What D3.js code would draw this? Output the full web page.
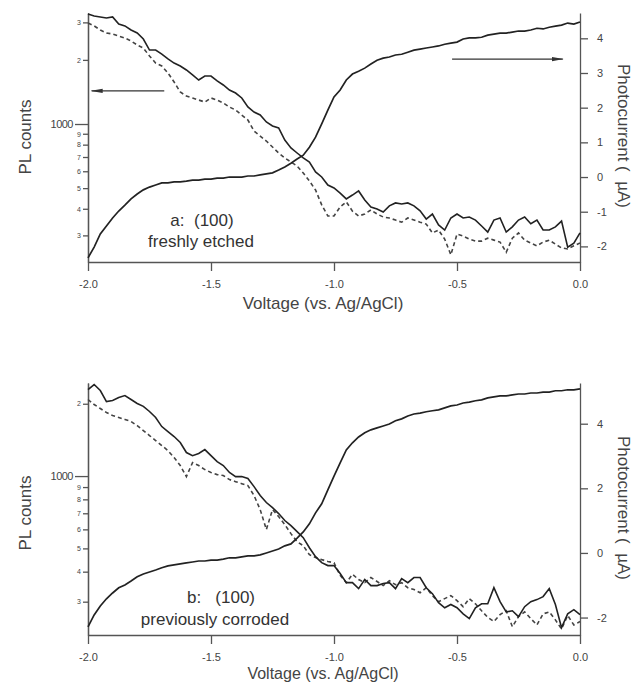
<!DOCTYPE html>
<html>
<head>
<meta charset="utf-8">
<script src="https://cdn.jsdelivr.net/npm/d3@7"></script>
<style>
  body { margin: 0; background: #fff; }
  svg { display: block; font-family: "Liberation Sans", Arial, Helvetica, sans-serif; }
  .axis path, .axis line { stroke: #555; stroke-width: 1.3; }
  .axis text { fill: #444; }
</style>
</head>
<body>
<svg id="chart" width="635" height="684"></svg>
<script>
// voltage grid (V vs. Ag/AgCl), shared by every curve
const voltage = [-2.000,-1.975,-1.950,-1.925,-1.900,-1.875,-1.850,-1.825,-1.800,-1.775,
  -1.750,-1.725,-1.700,-1.675,-1.650,-1.625,-1.600,-1.575,-1.550,-1.525,
  -1.500,-1.475,-1.450,-1.425,-1.400,-1.375,-1.350,-1.325,-1.300,-1.275,
  -1.250,-1.225,-1.200,-1.175,-1.150,-1.125,-1.100,-1.075,-1.050,-1.025,
  -1.000,-0.975,-0.950,-0.925,-0.900,-0.875,-0.850,-0.825,-0.800,-0.775,
  -0.750,-0.725,-0.700,-0.675,-0.650,-0.625,-0.600,-0.575,-0.550,-0.525,
  -0.500,-0.475,-0.450,-0.425,-0.400,-0.375,-0.350,-0.325,-0.300,-0.275,
  -0.250,-0.225,-0.200,-0.175,-0.150,-0.125,-0.100,-0.075,-0.050,-0.025,0.000];

// panel a: freshly etched
const plSolidA = [3283,3214,3180,3145,3180,2945,2888,2762,2675,2506,
  2225,2225,2130,2020,1932,1872,1793,1699,1609,1680,
  1680,1593,1525,1444,1398,1325,1202,1138,1102,1022,
  979,958,841,772,731,693,663,596,564,517,
  501,474,445,464,485,440,408,399,386,413,
  426,421,426,413,391,358,378,336,318,362,
  378,362,366,354,332,311,354,362,311,329,
  354,366,340,354,318,318,329,350,264,276,308];
const plDashA = [2978,2888,2762,2675,2646,2589,2533,2452,2349,2273,
  2086,1932,1872,1736,1575,1413,1354,1325,1296,1268,
  1325,1296,1255,1202,1163,1102,1044,927,878,832,
  780,731,693,663,635,589,540,490,417,370,
  370,408,431,390,370,378,395,378,366,362,
  354,346,362,354,346,339,308,318,288,243,
  304,298,288,282,282,291,285,279,250,291,
  308,285,276,268,279,285,273,262,259,268,276];
const photoA = [-2.33,-2.02,-1.64,-1.41,-1.18,-0.98,-0.81,-0.63,-0.49,-0.37,
  -0.29,-0.23,-0.17,-0.17,-0.14,-0.14,-0.12,-0.09,-0.09,-0.06,
  -0.06,-0.03,-0.03,0,0,0,0.03,0.03,0.06,0.09,
  0.12,0.20,0.29,0.40,0.52,0.63,0.86,1.15,1.53,1.93,
  2.31,2.51,2.80,2.97,3.05,3.14,3.26,3.37,3.43,3.46,
  3.52,3.54,3.60,3.66,3.69,3.72,3.75,3.78,3.83,3.86,
  3.89,3.98,4.01,4.01,4.03,4.09,4.12,4.15,4.15,4.18,
  4.21,4.21,4.24,4.29,4.27,4.32,4.35,4.38,4.44,4.41,4.47];

// panel b: previously corroded
const plSolidB = [2292,2405,2271,2042,2064,2124,2163,2083,2005,1950,
  1857,1754,1607,1531,1461,1380,1253,1216,1241,1289,
  1216,1148,1106,1035,995,995,977,904,830,776,
  739,698,653,622,587,554,503,462,436,424,
  424,393,360,360,340,371,350,350,357,360,
  340,374,360,378,378,343,324,297,283,292,
  283,267,255,283,294,294,343,300,272,275,
  260,286,300,306,315,340,292,234,267,278,265];
const plDashB = [2083,1985,1911,1839,1786,1754,1720,1687,1622,1546,
  1475,1406,1340,1277,1194,1106,995,1138,1106,1064,
  1035,1014,1005,967,948,930,913,830,725,599,
  725,678,628,576,533,513,471,458,449,441,
  436,386,360,390,371,360,378,364,350,367,
  353,360,343,337,327,343,318,300,309,318,
  303,286,309,294,275,258,248,265,275,236,
  260,272,255,240,267,272,252,231,263,240,248];
const photoB = [-2.29,-1.92,-1.64,-1.42,-1.24,-1.08,-0.99,-0.87,-0.74,-0.65,
  -0.59,-0.53,-0.46,-0.40,-0.37,-0.34,-0.31,-0.28,-0.25,-0.25,
  -0.22,-0.22,-0.19,-0.15,-0.15,-0.12,-0.09,-0.09,-0.06,0,
  0.06,0.12,0.22,0.28,0.46,0.65,0.90,1.24,1.52,1.95,
  2.38,2.79,3.19,3.41,3.59,3.72,3.81,3.87,3.93,3.99,
  4.09,4.15,4.24,4.30,4.33,4.37,4.40,4.43,4.49,4.55,
  4.58,4.64,4.67,4.71,4.74,4.80,4.83,4.86,4.86,4.89,
  4.92,4.92,4.95,4.95,4.98,4.98,5.02,5.02,5.05,5.05,5.08];

// axes
const voltTicks = [-2.0, -1.5, -1.0, -0.5, 0.0];
const voltLabels = ["-2.0", "-1.5", "-1.0", "-0.5", "0.0"];
const photoTicksA = [-2, -1, 0, 1, 2, 3, 4];
const photoTicksB = [-2, 0, 2, 4];
const plMinorA = [300, 400, 500, 600, 700, 800, 900, 2000, 3000];
const plMinorB = [300, 400, 500, 600, 700, 800, 900, 2000];
const plDomainA = [225, 3320], photoDomainA = [-2.45, 4.73];
const plDomainB = [218, 2440], photoDomainB = [-2.54, 5.26];

// annotation text and arrows (arrow ends in data units)
const notesA = ["a:  (100)", "freshly etched"];
const notesB = ["b:   (100)", "previously corroded"];
const arrowPL = [[-1.69, 1430], [-1.985, 1430]];
const arrowPhoto = [[-0.52, 3.40], [-0.07, 3.40]];

const svg = d3.select('#chart');
const left = 88, right = 580;
const x = d3.scaleLinear().domain([-2, 0]).range([left, right]);

svg.append('defs').append('marker')
    .attr('id', 'head')
    .attr('viewBox', '0 0 12 6')
    .attr('refX', 11).attr('refY', 3)
    .attr('markerWidth', 12).attr('markerHeight', 6)
    .attr('markerUnits', 'userSpaceOnUse')
    .attr('orient', 'auto')
  .append('path')
    .attr('d', 'M0,0.8 L12,3 L0,5.2 Z')
    .attr('fill', '#333');

function drawPanel(p) {
    const yPL = d3.scaleLog().domain(p.plDomain).range([p.bottom, p.top]);
    const yPh = d3.scaleLinear().domain(p.photoDomain).range([p.bottom, p.top]);
    const g = svg.append('g');

    // bottom axis
    g.append('g').attr('class', 'axis')
        .attr('transform', `translate(0,${p.bottom})`)
        .call(d3.axisBottom(x).tickValues(voltTicks).tickSize(9).tickPadding(9)
            .tickSizeOuter(0).tickFormat((d, i) => voltLabels[i]))
        .selectAll('text').attr('font-size', 11);

    // left log axis: tiny minor labels plus the 1000 mark
    g.append('g').attr('class', 'axis')
        .attr('transform', `translate(${left},0)`)
        .call(d3.axisLeft(yPL).tickValues(p.plMinor).tickSize(5).tickPadding(2)
            .tickSizeOuter(0).tickFormat(d => d < 1000 ? d / 100 : d / 1000))
        .selectAll('text').attr('font-size', 7);
    g.append('g').attr('class', 'axis')
        .attr('transform', `translate(${left},0)`)
        .call(d3.axisLeft(yPL).tickValues([1000]).tickSize(13).tickPadding(2)
            .tickSizeOuter(0).tickFormat(() => '1000'))
        .selectAll('text').attr('font-size', 11).attr('letter-spacing', -0.5);

    // right linear axis
    g.append('g').attr('class', 'axis')
        .attr('transform', `translate(${right},0)`)
        .call(d3.axisRight(yPh).tickValues(p.photoTicks).tickSize(8).tickPadding(9)
            .tickSizeOuter(0).tickFormat(d => String(d)))
        .selectAll('text').attr('font-size', 11);

    // titles
    g.append('text')
        .attr('transform', `translate(25,${p.plTitleY}) rotate(-90)`)
        .attr('text-anchor', 'middle').attr('dy', '0.35em')
        .attr('font-size', 17).attr('fill', '#444')
        .text('PL counts');
    g.append('text')
        .attr('transform', `translate(624,${p.phTitleY}) rotate(90)`)
        .attr('text-anchor', 'middle').attr('dy', '0.35em')
        .attr('font-size', 17).attr('fill', '#444')
        .attr('xml:space', 'preserve')
        .text('Photocurrent (  \u00b5A)');
    g.append('text')
        .attr('x', 323).attr('y', p.bottom + p.xTitleGap)
        .attr('text-anchor', 'middle').attr('dy', '0.35em')
        .attr('font-size', p.xTitleSize).attr('fill', '#444')
        .text('Voltage (vs. Ag/AgCl)');

    // curves
    const linePL = d3.line().x((d, i) => x(voltage[i])).y(d => yPL(d));
    const linePh = d3.line().x((d, i) => x(voltage[i])).y(d => yPh(d));

    g.append('path').datum(p.plDash)
        .attr('d', linePL).attr('fill', 'none')
        .attr('stroke', '#444').attr('stroke-width', 1.6)
        .attr('stroke-dasharray', '4,3');
    g.append('path').datum(p.plSolid)
        .attr('d', linePL).attr('fill', 'none')
        .attr('stroke', '#222').attr('stroke-width', 1.6);
    g.append('path').datum(p.photo)
        .attr('d', linePh).attr('fill', 'none')
        .attr('stroke', '#222').attr('stroke-width', 1.7);

    // sample label
    g.selectAll('.note').data(p.notes).enter().append('text')
        .attr('x', (d, i) => p.notePos[i][0])
        .attr('y', (d, i) => p.notePos[i][1])
        .attr('text-anchor', 'middle').attr('dy', '0.35em')
        .attr('font-size', 17).attr('fill', '#333')
        .attr('xml:space', 'preserve')
        .text(d => d);

    // arrows pointing to each axis
    if (p.arrows) {
        g.append('line')
            .attr('x1', x(arrowPL[0][0])).attr('y1', yPL(arrowPL[0][1]))
            .attr('x2', x(arrowPL[1][0])).attr('y2', yPL(arrowPL[1][1]))
            .attr('stroke', '#333').attr('stroke-width', 1.4)
            .attr('marker-end', 'url(#head)');
        g.append('line')
            .attr('x1', x(arrowPhoto[0][0])).attr('y1', yPh(arrowPhoto[0][1]))
            .attr('x2', x(arrowPhoto[1][0])).attr('y2', yPh(arrowPhoto[1][1]))
            .attr('stroke', '#333').attr('stroke-width', 1.4)
            .attr('marker-end', 'url(#head)');
    }
}

drawPanel({
    top: 13, bottom: 262,
    plDomain: plDomainA, photoDomain: photoDomainA,
    plMinor: plMinorA, photoTicks: photoTicksA,
    plSolid: plSolidA, plDash: plDashA, photo: photoA,
    plTitleY: 137, phTitleY: 136, xTitleGap: 41, xTitleSize: 17,
    notes: notesA, notePos: [[202, 220], [201, 241]],
    arrows: true
});

drawPanel({
    top: 383, bottom: 635,
    plDomain: plDomainB, photoDomain: photoDomainB,
    plMinor: plMinorB, photoTicks: photoTicksB,
    plSolid: plSolidB, plDash: plDashB, photo: photoB,
    plTitleY: 513, phTitleY: 508, xTitleGap: 38, xTitleSize: 16,
    notes: notesB, notePos: [[221, 597], [215, 619]],
    arrows: false
});
</script>
</body>
</html>
